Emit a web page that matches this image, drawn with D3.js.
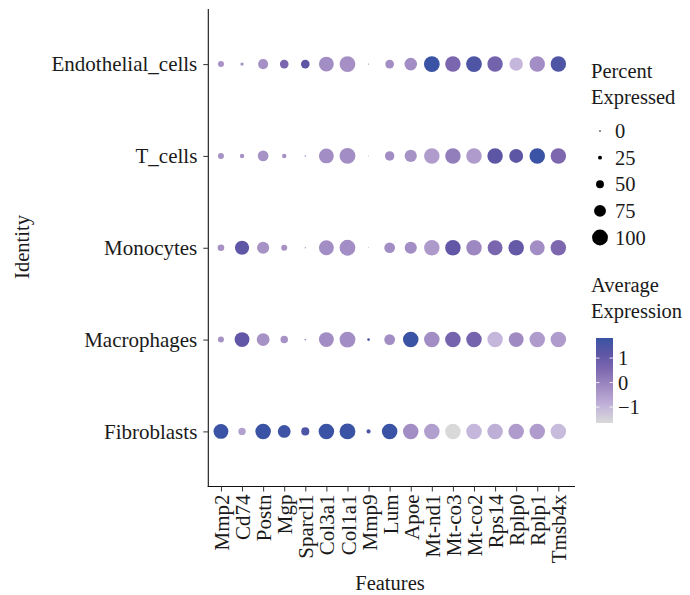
<!DOCTYPE html>
<html>
<head>
<meta charset="utf-8">
<script src="https://cdn.jsdelivr.net/npm/d3@7"></script>
<style>
  html, body { margin: 0; padding: 0; background: #fff; }
  svg { display: block; }
  text { font-family: "Liberation Serif", "DejaVu Serif", serif; fill: #1a1a1a; }
</style>
</head>
<body>
<svg id="chart" width="690" height="595"></svg>
<script>
// Genes on the x axis and cell identities on the y axis (top to bottom)
const features = ["Mmp2", "Cd74", "Postn", "Mgp", "Sparcl1", "Col3a1", "Col1a1", "Mmp9",
  "Lum", "Apoe", "Mt-nd1", "Mt-co3", "Mt-co2", "Rps14", "Rplp0", "Rplp1", "Tmsb4x"];
const identities = ["Endothelial_cells", "T_cells", "Monocytes", "Macrophages", "Fibroblasts"];

// Percent of cells expressing each gene, one array per identity (feature order)
const pctEndothelial = [38, 21, 64, 55, 55, 94, 100, 8, 55, 80, 100, 98, 100, 98, 85, 98, 98];
const pctTcells      = [38, 28, 68, 28, 10, 94, 100, 6, 60, 77, 98, 98, 98, 98, 88, 98, 98];
const pctMonocytes   = [42, 90, 77, 38, 8, 94, 100, 6, 68, 77, 98, 98, 98, 94, 98, 94, 98];
const pctMacrophages = [38, 94, 81, 47, 12, 94, 100, 17, 68, 98, 98, 98, 98, 98, 94, 98, 98];
const pctFibroblasts = [94, 47, 98, 81, 51, 98, 100, 26, 98, 98, 98, 98, 98, 98, 98, 98, 98];

// Scaled average expression, one array per identity (feature order)
const avgEndothelial = [-0.3, -0.3, -0.25, 0.6, 1.2, -0.2, -0.25, -0.3, -0.2, -0.2, 1.8, 0.6, 1.5, 0.75, -1.0, -0.2, 1.5];
const avgTcells      = [-0.3, -0.3, -0.3, -0.3, -0.3, -0.2, -0.2, -0.3, -0.2, -0.3, -0.5, 0.1, -0.5, 1.2, 1.2, 1.8, 0.55];
const avgMonocytes   = [-0.3, 1.15, -0.3, -0.3, -0.3, -0.2, -0.2, -0.3, -0.2, -0.2, -0.45, 1.1, -0.1, 0.6, 1.05, -0.2, 0.55];
const avgMacrophages = [-0.3, 1.1, -0.3, -0.3, -0.3, -0.2, -0.2, 1.5, -0.2, 1.8, -0.2, 0.7, 0.7, -1.0, -0.15, -0.5, -0.5];
const avgFibroblasts = [1.8, -0.6, 1.8, 1.75, 1.5, 1.8, 1.8, 1.5, 1.8, -0.2, -0.55, -1.65, -1.0, -0.85, -0.5, -0.5, -1.1];

// Legend breaks
const sizeBreaks = [0, 25, 50, 75, 100];
const colorBreaks = [1, 0, -1];
const colorLimits = [-1.65, 1.82];

const pctRows = [pctEndothelial, pctTcells, pctMonocytes, pctMacrophages, pctFibroblasts];
const avgRows = [avgEndothelial, avgTcells, avgMonocytes, avgMacrophages, avgFibroblasts];
const dots = [];
identities.forEach((id, i) => features.forEach((f, j) => {
  dots.push({ id, f, pct: pctRows[i][j], avg: avgRows[i][j] });
}));

const svg = d3.select("#chart");
const panelLeft = 208.3, panelRight = 571, panelTop = 9, panelBottom = 486.5;

const x = d3.scalePoint().domain(features).range([panelLeft, panelRight]).padding(0.6);
const y = d3.scalePoint().domain(identities).range([panelTop, panelBottom]).padding(0.6);
const r = d3.scaleLinear().domain([0, 100]).range([0, 7.9]);
const color = d3.scaleLinear()
  .domain([-1.65, -1.0, -0.25, 0.6, 1.15, 1.82])
  .range(["#d9d9d9", "#c4b7db", "#a58fc5", "#7a66af", "#5f56a5", "#3953a4"])
  .interpolate(d3.interpolateLab)
  .clamp(true);

// Dots
svg.append("g").selectAll("circle").data(dots).join("circle")
  .attr("cx", d => x(d.f))
  .attr("cy", d => y(d.id))
  .attr("r", d => r(d.pct))
  .attr("fill", d => color(d.avg));

// Axes
const fs = 20.5;
const yAxis = svg.append("g").attr("transform", `translate(${panelLeft},0)`)
  .call(d3.axisLeft(y).tickSize(5).tickSizeOuter(0).tickPadding(6));
const xAxis = svg.append("g").attr("transform", `translate(0,${panelBottom})`)
  .call(d3.axisBottom(x).tickSize(5).tickSizeOuter(0));
[yAxis, xAxis].forEach(g => {
  g.select(".domain").attr("stroke", "#111").attr("stroke-width", 1.1);
  g.selectAll(".tick line").attr("stroke", "#333").attr("stroke-width", 1);
  g.selectAll("text").attr("font-family", "Liberation Serif").attr("font-size", 21).attr("fill", "#1a1a1a");
});
// axis lines meet at the corner
yAxis.select(".domain").attr("d", `M0,${panelTop}V${panelBottom + 0.5}`);
xAxis.select(".domain").attr("d", `M${-0.5 + panelLeft},0H${panelRight + 4}`);

xAxis.selectAll(".tick text")
  .attr("transform", "rotate(-90)")
  .attr("text-anchor", "end")
  .attr("x", -8)
  .attr("y", 0)
  .attr("dy", "0.36em");

// Axis titles
svg.append("text").attr("x", 390).attr("y", 590).attr("text-anchor", "middle")
  .attr("font-size", fs).text("Features");
svg.append("text").attr("transform", "translate(29,247) rotate(-90)").attr("text-anchor", "middle")
  .attr("font-size", fs).text("Identity");

// Size legend
const lg = svg.append("g");
lg.append("text").attr("x", 591).attr("y", 78).attr("font-size", fs).text("Percent");
lg.append("text").attr("x", 591).attr("y", 104).attr("font-size", fs).text("Expressed");
const ly = d3.scalePoint().domain(sizeBreaks).range([131, 237.5]);
lg.selectAll("circle").data(sizeBreaks).join("circle")
  .attr("cx", 600).attr("cy", d => ly(d)).attr("r", d => Math.max(r(d), 0.8)).attr("fill", "#000");
lg.selectAll("text.lab").data(sizeBreaks).join("text").attr("class", "lab")
  .attr("x", 615).attr("y", d => ly(d)).attr("dy", "0.35em").attr("font-size", fs).text(d => d);

// Colour legend
const cg = svg.append("g");
cg.append("text").attr("x", 591).attr("y", 292).attr("font-size", fs).text("Average");
cg.append("text").attr("x", 591).attr("y", 318).attr("font-size", fs).text("Expression");
const cy = d3.scaleLinear().domain(colorLimits).range([423, 338]);
const grad = svg.append("defs").append("linearGradient").attr("id", "avgGrad")
  .attr("x1", 0).attr("y1", 1).attr("x2", 0).attr("y2", 0);
d3.range(0, 1.0001, 0.05).forEach(t => {
  grad.append("stop").attr("offset", t)
    .attr("stop-color", color(colorLimits[0] + t * (colorLimits[1] - colorLimits[0])));
});
cg.append("rect").attr("x", 596).attr("y", cy(colorLimits[1])).attr("width", 17)
  .attr("height", cy(colorLimits[0]) - cy(colorLimits[1])).attr("fill", "url(#avgGrad)");
colorBreaks.forEach(v => {
  cg.append("line").attr("x1", 596).attr("x2", 599.5).attr("y1", cy(v)).attr("y2", cy(v))
    .attr("stroke", "#fff").attr("stroke-opacity", 0.8);
  cg.append("line").attr("x1", 609.5).attr("x2", 613).attr("y1", cy(v)).attr("y2", cy(v))
    .attr("stroke", "#fff").attr("stroke-opacity", 0.8);
});
cg.selectAll("text.lab").data(colorBreaks).join("text").attr("class", "lab")
  .attr("x", 618).attr("y", d => cy(d)).attr("dy", "0.35em").attr("font-size", fs)
  .text(d => d < 0 ? "\u2212" + Math.abs(d) : d);
</script>
</body>
</html>
